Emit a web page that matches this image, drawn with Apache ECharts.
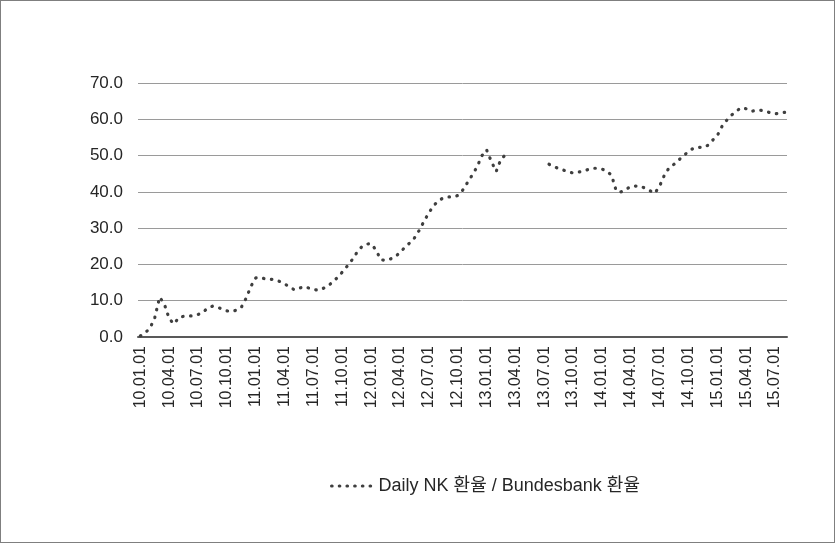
<!DOCTYPE html>
<html>
<head>
<meta charset="utf-8">
<script src="https://cdn.jsdelivr.net/npm/echarts@6/dist/echarts.min.js"></script>
<style>
  html, body { margin: 0; padding: 0; background: #fff; }
  #chart { width: 835px; height: 543px; box-sizing: border-box; border: 1px solid #7f7f7f; }
</style>
</head>
<body>
<div id="chart"></div>
<script>
// semi-monthly dates, label shown every 3 months
var dates = [
  '10.01.01','10.01.16','10.02.01','10.02.16','10.03.01','10.03.16','10.04.01','10.04.16','10.05.01','10.05.16','10.06.01','10.06.16',
  '10.07.01','10.07.16','10.08.01','10.08.16','10.09.01','10.09.16','10.10.01','10.10.16','10.11.01','10.11.16','10.12.01','10.12.16',
  '11.01.01','11.01.16','11.02.01','11.02.16','11.03.01','11.03.16','11.04.01','11.04.16','11.05.01','11.05.16','11.06.01','11.06.16',
  '11.07.01','11.07.16','11.08.01','11.08.16','11.09.01','11.09.16','11.10.01','11.10.16','11.11.01','11.11.16','11.12.01','11.12.16',
  '12.01.01','12.01.16','12.02.01','12.02.16','12.03.01','12.03.16','12.04.01','12.04.16','12.05.01','12.05.16','12.06.01','12.06.16',
  '12.07.01','12.07.16','12.08.01','12.08.16','12.09.01','12.09.16','12.10.01','12.10.16','12.11.01','12.11.16','12.12.01','12.12.16',
  '13.01.01','13.01.16','13.02.01','13.02.16','13.03.01','13.03.16','13.04.01','13.04.16','13.05.01','13.05.16','13.06.01','13.06.16',
  '13.07.01','13.07.16','13.08.01','13.08.16','13.09.01','13.09.16','13.10.01','13.10.16','13.11.01','13.11.16','13.12.01','13.12.16',
  '14.01.01','14.01.16','14.02.01','14.02.16','14.03.01','14.03.16','14.04.01','14.04.16','14.05.01','14.05.16','14.06.01','14.06.16',
  '14.07.01','14.07.16','14.08.01','14.08.16','14.09.01','14.09.16','14.10.01','14.10.16','14.11.01','14.11.16','14.12.01','14.12.16',
  '15.01.01','15.01.16','15.02.01','15.02.16','15.03.01','15.03.16','15.04.01','15.04.16','15.05.01','15.05.16','15.06.01','15.06.16',
  '15.07.01','15.07.16','15.08.01'
];

// Daily NK rate / Bundesbank rate
var ratio2010 = [0.3, 1.2, 2.4, 5.4, 11.0, 9.0, 5.0, 3.6, 5.4, 5.7, 5.8, 5.8,
                 6.2, 6.8, 8.0, 8.5, 8.2, 7.7, 7.2, 7.0, 7.4, 8.2, 10.7, 14.0];
var ratio2011 = [16.3, 16.4, 16.0, 15.9, 15.8, 15.3, 14.6, 13.9, 13.0, 13.4, 13.9, 13.5,
                 13.1, 12.9, 13.4, 14.0, 15.2, 16.4, 17.9, 19.5, 21.2, 23.2, 24.8, 25.6];
var ratio2012 = [25.7, 24.0, 21.3, 21.1, 21.5, 22.1, 23.3, 24.7, 25.9, 27.3, 29.4, 31.9,
                 34.2, 36.2, 37.6, 38.3, 38.6, 38.6, 39.0, 40.4, 42.5, 44.6, 46.8, 49.9];
var ratio2013 = [51.6, 48.4, 45.6, 49.0, 50.3, null, null, null, null, null, null, null,
                 null, 47.6, 47.0, 46.4, 46.0, 45.5, 45.2, 45.4, 45.7, 46.1, 46.5, 46.5];
var ratio2014 = [46.3, 45.7, 44.6, 40.2, 40.0, 40.7, 41.5, 41.6, 41.6, 41.0, 40.3, 39.6,
                 41.6, 44.6, 46.7, 47.6, 48.8, 50.0, 51.1, 52.0, 52.3, 52.2, 52.8, 54.2];
var ratio2015 = [55.5, 58.1, 59.8, 61.2, 62.3, 63.2, 62.9, 62.2, 62.4, 62.5, 62.2, 61.8,
                 61.5, 61.7, 61.9];

var ratio = [].concat(ratio2010, ratio2011, ratio2012, ratio2013, ratio2014, ratio2015);

var yTicks = [0, 10, 20, 30, 40, 50, 60, 70];
var seriesName = 'Daily NK 환율 / Bundesbank 환율';

var font = '"Liberation Sans", "Noto Sans CJK KR", sans-serif';
var chart = echarts.init(document.getElementById('chart'));

chart.setOption({
  animation: false,
  textStyle: { fontFamily: font },
  grid: {
    left: 137,
    right: 47,
    top: 82,
    bottom: 205
  },
  legend: {
    data: [seriesName],
    left: 324,
    top: 471,
    itemWidth: 42,
    itemHeight: 14,
    itemGap: 4,
    itemStyle: { opacity: 0 },
    lineStyle: { width: 3.2, type: [0.5, 7.2], cap: 'round', color: '#3f3f3f' },
    textStyle: { fontSize: 18, color: '#262626', fontFamily: font }
  },
  xAxis: {
    type: 'category',
    data: dates,
    boundaryGap: true,
    axisLine: { lineStyle: { color: '#595959', width: 2 } },
    axisTick: { show: false },
    axisLabel: {
      interval: 5,
      rotate: 90,
      margin: 9,
      fontSize: 16,
      color: '#262626',
      fontFamily: font
    },
    splitLine: { show: false }
  },
  yAxis: {
    type: 'value',
    min: yTicks[0],
    max: yTicks[yTicks.length - 1],
    interval: 10,
    axisLine: { show: false },
    axisTick: { show: false },
    axisLabel: {
      margin: 15,
      fontSize: 17,
      color: '#262626',
      fontFamily: font,
      formatter: function (v) { return v.toFixed(1); }
    },
    splitLine: { lineStyle: { color: '#9a9a9a', width: 1 } }
  },
  series: [{
    name: seriesName,
    type: 'line',
    data: ratio,
    symbol: 'none',
    connectNulls: false,
    itemStyle: { color: '#3f3f3f' },
    lineStyle: {
      color: '#3f3f3f',
      width: 3.2,
      type: [0.5, 7.5],
      cap: 'round'
    }
  }]
});
</script>
</body>
</html>
